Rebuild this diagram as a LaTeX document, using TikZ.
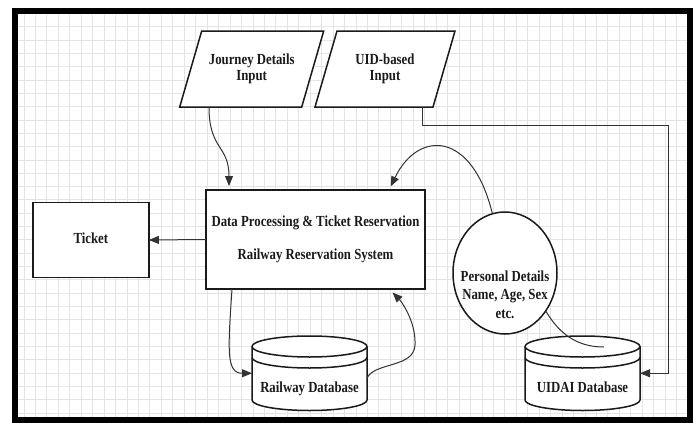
\documentclass[tikz,border=0pt]{standalone}
\usepackage{fontspec}
\setmainfont{Liberation Serif}
\usepackage{graphicx}
\usetikzlibrary{arrows.meta,shapes.geometric,calc}
\definecolor{gridc}{HTML}{E4E4E4}
\definecolor{ink}{HTML}{1A1A1A}
\definecolor{wire}{HTML}{333333}
\newcommand\lbl[1]{\scalebox{1}[1.2]{\begin{tabular}{@{}c@{}}#1\end{tabular}}}
\pgfdeclarelayer{gridl}
\pgfdeclarelayer{shapes}
\pgfsetlayers{gridl,shapes,main}
\tikzset{
 shp/.style={draw=ink,line width=1.5pt,fill=white},
 txt/.style={font=\fontsize{12.8}{15.4}\selectfont\bfseries,text=ink},
 boxn/.style={shp,rectangle,inner sep=0pt,outer sep=0pt},
 ghost/.style={rectangle,inner sep=0pt,outer sep=0pt,draw=none},
 conn/.style={draw=wire,line width=1pt,-{Triangle[length=10pt,width=8pt]}},
 plain/.style={draw=wire,line width=1pt},
}
\newcommand\dbshape[1]{%
 \begin{pgfonlayer}{shapes}
 \path[shp] ([yshift=-10.5pt]#1.north west) -- ([yshift=10.5pt]#1.south west)
   arc[start angle=180,end angle=0,x radius=57.5,y radius=10.5]
   -- ([yshift=-10.5pt]#1.north east)
   arc[start angle=0,end angle=-180,x radius=57.5,y radius=10.5] -- cycle;
 \draw[shp,fill=none] ([yshift=-10.5pt]#1.north west) arc[start angle=180,end angle=0,x radius=57.5,y radius=10.5];
 \draw[shp,fill=none] ([yshift=-21.5pt]#1.north west) arc[start angle=180,end angle=0,x radius=57.5,y radius=10.5];
 \end{pgfonlayer}}
\begin{document}
\begin{tikzpicture}[x=1pt,y=-1pt]
\useasboundingbox (0,0) rectangle (694,423);
\begin{pgfonlayer}{gridl}
\fill[white] (0,0) rectangle (694,423);
\begin{scope}
\clip (15,11) rectangle (690,420);
\foreach \i in {0,...,58} \draw[gridc,line width=1pt] ({24+11.45*\i},11) -- ({24+11.45*\i},420);
\foreach \j in {-1,...,30} \draw[gridc,line width=1pt] (15,{26.7+13.33*\j}) -- (690,{26.7+13.33*\j});
\end{scope}
\draw[black,line width=6pt] (15,11) rectangle (690,420);
\end{pgfonlayer}

% input parallelograms
\node[ghost,txt,minimum width=100pt,minimum height=76pt] (jd) at (251.7,69) {\lbl{Journey Details\\[-2.1pt]Input}};
\begin{pgfonlayer}{shapes}
\draw[shp] (jd.north west) -- ([xshift=22pt]jd.north east) -- (jd.south east) -- ([xshift=-22pt]jd.south west) -- cycle;
\end{pgfonlayer}
\node[ghost,txt,minimum width=96pt,minimum height=76pt] (uid) at (385,69) {\lbl{UID-based\\[-2.1pt]Input}};
\begin{pgfonlayer}{shapes}
\draw[shp] (uid.north west) -- ([xshift=22pt]uid.north east) -- (uid.south east) -- ([xshift=-22pt]uid.south west) -- cycle;
\end{pgfonlayer}

% boxes
\node[boxn,txt,minimum width=219pt,minimum height=99pt] (mb) at (315.5,239.5)
  {\lbl{Data Processing \& Ticket Reservation\\[12.1pt]Railway Reservation System}};
\node[boxn,txt,minimum width=116pt,minimum height=75pt] (tk) at (90.85,240) {\lbl{Ticket}};

% personal details ellipse
\node[shp,ellipse,minimum width=104pt,minimum height=122pt,inner sep=0pt,outer sep=0pt] (pd) at (505,273) {};
\node[txt,inner sep=0pt] (pdt) at (505,296) {\lbl{Personal Details\\Name, Age, Sex\\etc.}};

% databases
\node[ghost,minimum width=115pt,minimum height=74.5pt] (rdb) at (309.5,373.25) {};
\dbshape{rdb}
\node[txt,inner sep=0pt] (rdbt) at (309.5,389) {\lbl{Railway Database}};
\node[ghost,minimum width=115pt,minimum height=74.5pt] (udb) at (582.5,373.25) {};
\dbshape{udb}
\node[txt,inner sep=0pt] (udbt) at (582.5,389) {\lbl{UIDAI Database}};

% connectors
\coordinate (cr) at (668,125);
\draw[conn] ([xshift=-10.7pt]uid.south east) |- (cr) |- (udb.east);
\coordinate (pe) at (604,347);
\draw[plain] (pd.-43) .. controls (560,335) and (578,347) .. (pe);
\draw[conn,shorten >=4pt] ([xshift=7.3pt]jd.south west) .. controls (209,150) and (229,145) .. ([xshift=23pt]mb.north west);
\draw[conn,shorten >=4pt] (pd.102) .. controls (472,130) and (418,130) .. ([xshift=-36pt]mb.north east);
\draw[conn] ([xshift=26pt]mb.south west) .. controls (228,350) and (226,373.25) .. (rdb.west);
\draw[conn,shorten >=5pt] ([yshift=-4.75pt]rdb.east) .. controls (375,362) and (414,368) .. (415,345) .. controls (416,320) and (400,300) .. ([xshift=-36pt]mb.south east);
\draw[conn] (mb.west) -- (tk.east);
\end{tikzpicture}
\end{document}
